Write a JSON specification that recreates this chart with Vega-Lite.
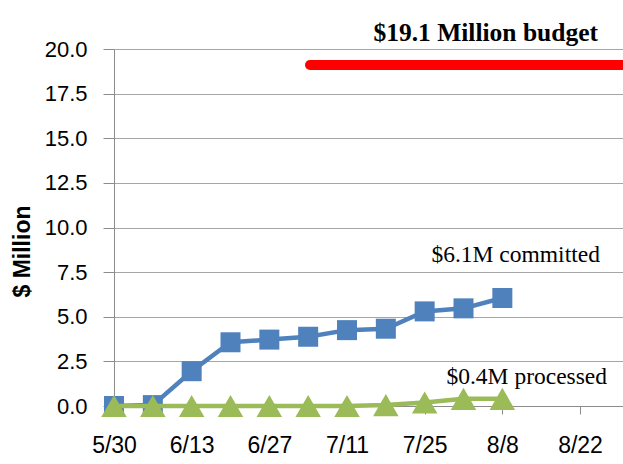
{
  "$schema": "https://vega.github.io/schema/vega-lite/v6.json",
  "width": 509,
  "height": 357,
  "autosize": "none",
  "padding": {"left": 114, "top": 49, "right": 0, "bottom": 58},
  "background": "white",
  "config": {"view": {"stroke": null}, "font": "Liberation Sans"},
  "datasets": {
    "committed": [
      {"date": "2011/05/30", "value": 0},
      {"date": "2011/06/06", "value": 0.05},
      {"date": "2011/06/13", "value": 1.95},
      {"date": "2011/06/20", "value": 3.57},
      {"date": "2011/06/27", "value": 3.72},
      {"date": "2011/07/04", "value": 3.88},
      {"date": "2011/07/11", "value": 4.25},
      {"date": "2011/07/18", "value": 4.33},
      {"date": "2011/07/25", "value": 5.3},
      {"date": "2011/08/01", "value": 5.47},
      {"date": "2011/08/08", "value": 6.05}
    ],
    "processed": [
      {"date": "2011/05/30", "value": 0},
      {"date": "2011/06/06", "value": 0},
      {"date": "2011/06/13", "value": 0},
      {"date": "2011/06/20", "value": 0},
      {"date": "2011/06/27", "value": 0},
      {"date": "2011/07/04", "value": 0},
      {"date": "2011/07/11", "value": 0},
      {"date": "2011/07/18", "value": 0.05},
      {"date": "2011/07/25", "value": 0.2},
      {"date": "2011/08/01", "value": 0.4},
      {"date": "2011/08/08", "value": 0.4}
    ],
    "budget": [
      {"date": "2011/07/04 08:00", "date2": "2011/08/31", "value": 19.1}
    ],
    "boldLabels": [
      {"date": "2011/08/25 06:00", "value": 20.45, "label": "$19.1 Million budget"}
    ],
    "labels": [
      {"date": "2011/08/25 14:00", "value": 8.07, "label": "$6.1M committed"},
      {"date": "2011/08/26 21:00", "value": 1.23, "label": "$0.4M processed"}
    ]
  },
  "encoding": {
    "x": {
      "field": "date",
      "type": "temporal",
      "scale": {"domain": [{"year": 2011, "month": 5, "date": 30}, {"year": 2011, "month": 8, "date": 29, "hours": 18}]},
      "axis": {
        "title": null,
        "grid": false,
        "format": "%-m/%-d",
        "labelFlush": false,
        "labelOverlap": false,
        "values": [
          {"year": 2011, "month": 5, "date": 30},
          {"year": 2011, "month": 6, "date": 13},
          {"year": 2011, "month": 6, "date": 27},
          {"year": 2011, "month": 7, "date": 11},
          {"year": 2011, "month": 7, "date": 25},
          {"year": 2011, "month": 8, "date": 8},
          {"year": 2011, "month": 8, "date": 22}
        ],
        "domainColor": "#8C8C8C",
        "tickColor": "#8C8C8C",
        "tickSize": 8,
        "labelPadding": 20,
        "labelFontSize": 23,
        "labelColor": "#000000",
        "labelFont": "Liberation Sans"
      }
    },
    "y": {
      "field": "value",
      "type": "quantitative",
      "scale": {"domain": [0, 20], "nice": false, "zero": true},
      "axis": {
        "title": "$ Million",
        "titleFontSize": 23,
        "titleFontWeight": "bold",
        "titleColor": "#000000",
        "titleX": -92,
        "titleY": 202,
        "titleAngle": -90,
        "titleBaseline": "middle",
        "titleAlign": "center",
        "values": [0, 2.5, 5, 7.5, 10, 12.5, 15, 17.5, 20],
        "format": ".1f",
        "grid": true,
        "gridColor": "#A6A6A6",
        "domainColor": "#8C8C8C",
        "tickColor": "#8C8C8C",
        "tickSize": 11,
        "labelPadding": 16,
        "labelFontSize": 22,
        "labelColor": "#000000",
        "labelFont": "Liberation Sans"
      }
    }
  },
  "layer": [
    {
      "data": {"name": "budget"},
      "mark": {"type": "rule", "strokeWidth": 10, "strokeCap": "round", "color": "#FF0000"},
      "encoding": {"x2": {"field": "date2"}}
    },
    {
      "data": {"name": "committed"},
      "mark": {"type": "line", "strokeWidth": 4.5, "color": "#4F81BD"},
      "encoding": {}
    },
    {
      "data": {"name": "committed"},
      "mark": {"type": "point", "shape": "square", "filled": true, "size": 400, "opacity": 1, "color": "#4F81BD"},
      "encoding": {}
    },
    {
      "data": {"name": "processed"},
      "mark": {"type": "line", "strokeWidth": 4.5, "color": "#9BBB59"},
      "encoding": {}
    },
    {
      "data": {"name": "processed"},
      "mark": {"type": "point", "shape": "triangle-up", "filled": true, "size": 650, "opacity": 1, "color": "#9BBB59"},
      "encoding": {}
    },
    {
      "data": {"name": "boldLabels"},
      "mark": {"type": "text", "font": "Liberation Serif", "fontSize": 25.5, "fontWeight": "bold", "align": "right", "baseline": "alphabetic", "color": "#000000"},
      "encoding": {"text": {"field": "label"}}
    },
    {
      "data": {"name": "labels"},
      "mark": {"type": "text", "font": "Liberation Serif", "fontSize": 23.5, "align": "right", "baseline": "alphabetic", "color": "#000000"},
      "encoding": {"text": {"field": "label"}}
    }
  ]
}
